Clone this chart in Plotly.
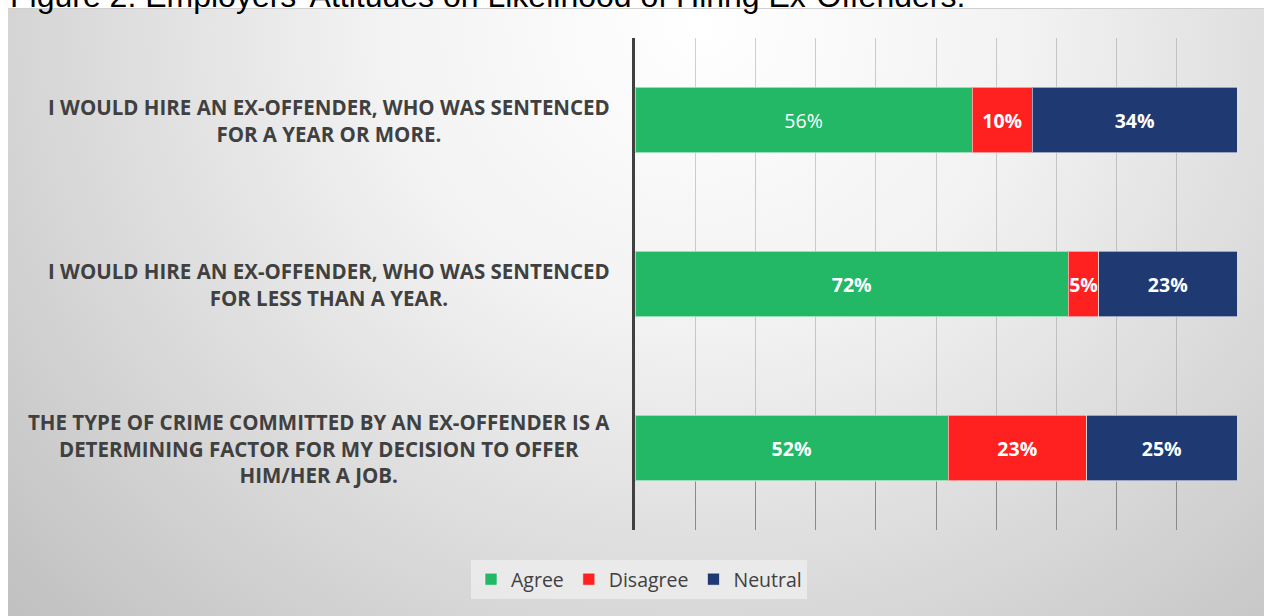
import base64
import plotly.graph_objects as go

# ---- data ----
statements = [
    "I WOULD HIRE AN EX-OFFENDER, WHO WAS SENTENCED<br>FOR A YEAR OR MORE.",
    "I WOULD HIRE AN EX-OFFENDER, WHO WAS SENTENCED<br>FOR LESS THAN A YEAR.",
    "THE TYPE OF CRIME COMMITTED BY AN EX-OFFENDER IS A<br>DETERMINING FACTOR FOR MY DECISION TO OFFER<br>HIM/HER A JOB.",
]
agree = [0.56, 0.72, 0.52]
disagree = [0.10, 0.05, 0.23]
neutral = [0.34, 0.23, 0.25]
series_names = ["Agree", "Disagree", "Neutral"]
series_colors = ["#22B866", "#FF2020", "#1F3A73"]
title_text = "Figure 2: Employers' Attitudes on Likelihood of Hiring Ex-Offenders."

W, H = 1264, 616
cats = ["c1", "c2", "c3"]

fig = go.Figure()
for name, vals, col in zip(series_names, [agree, disagree, neutral], series_colors):
    if name == "Agree":
        texts = [f"{round(v*100)}%" if i == 0 else f"<b>{round(v*100)}%</b>" for i, v in enumerate(vals)]
    else:
        texts = [f"<b>{round(v*100)}%</b>" for v in vals]
    fig.add_trace(go.Bar(
        y=cats, x=vals, name=name, orientation="h",
        marker=dict(color=col, line=dict(color="rgba(255,255,255,0.55)", width=1)),
        text=texts, textposition="inside", insidetextanchor="middle",
        textangle=0, constraintext="none",
        textfont=dict(color="white", size=19.5, family="Open Sans"),
        hoverinfo="skip",
    ))

# category labels as centered multi-line annotations
for c, s in zip(cats, statements):
    fig.add_annotation(x=612 / W, xref="paper", xanchor="right", y=c, yref="y",
                       text=f"<b>{s}</b>", showarrow=False, align="center",
                       font=dict(family="Open Sans", size=20.5, color="#404040"))

# title (cropped at top)
fig.add_annotation(x=8 / W, xref="paper", xanchor="left", y=1, yref="paper", yanchor="bottom",
                   yshift=-16, text=title_text, showarrow=False,
                   font=dict(family="Liberation Sans, Arial", size=32, color="#000000"))

svg = f'''<svg xmlns="http://www.w3.org/2000/svg" width="{W-8}" height="{H-9}" viewBox="0 0 {W-8} {H-9}" preserveAspectRatio="none">
<defs><radialGradient id="g" cx="{(700-8)/(W-8)}" cy="0.03" r="0.75" gradientUnits="objectBoundingBox" gradientTransform="translate({(700-8)/(W-8)},0.03) scale(1,1.9) translate({-(700-8)/(W-8)},-0.03)">
<stop offset="0" stop-color="#ffffff"/><stop offset="0.35" stop-color="#f2f2f2"/><stop offset="1" stop-color="#c0c0c0"/></radialGradient></defs>
<rect x="0" y="0" width="{W-8}" height="{H-9}" fill="url(#g)"/>
<line x1="0" y1="0.5" x2="{W-8}" y2="0.5" stroke="#d0d0d0" stroke-width="1"/>
</svg>'''
src = "data:image/svg+xml;base64," + base64.b64encode(svg.encode()).decode()
fig.add_layout_image(source=src, xref="paper", yref="paper", x=8 / W, y=1 - 8 / H,
                     sizex=(W - 8) / W, sizey=(H - 8) / H, xanchor="left", yanchor="top",
                     sizing="stretch", layer="below")

fig.update_layout(
    width=W, height=H, margin=dict(l=0, r=0, t=0, b=0),
    paper_bgcolor="white", plot_bgcolor="rgba(0,0,0,0)",
    barmode="stack", bargap=0.6,
    showlegend=True,
    legend=dict(orientation="h", x=639 / W, xanchor="center", y=1 - 560 / H, yanchor="top",
                bgcolor="rgba(236,236,236,0.85)", font=dict(family="Open Sans", size=19.5, color="#404040"),
                traceorder="normal"),
    xaxis=dict(domain=[635 / W, 1237 / W], range=[0, 1], showgrid=True, gridcolor="rgba(120,120,120,0.35)",
               gridwidth=1, dtick=0.1, showticklabels=False, zeroline=False, layer="above traces",
               ticks="inside", ticklen=48, tickcolor="#8a8a8a", tickwidth=1, showline=False, fixedrange=True),
    yaxis=dict(domain=[1 - 530 / H, 1 - 38 / H], autorange="reversed", showticklabels=False,
               showline=True, linecolor="#404040", linewidth=3, showgrid=False, zeroline=False,
               ticks="", fixedrange=True),
    font=dict(family="Open Sans"),
)

fig.write_html("out.html", post_script="document.body.style.margin='0';",
               config={"displayModeBar": False})
